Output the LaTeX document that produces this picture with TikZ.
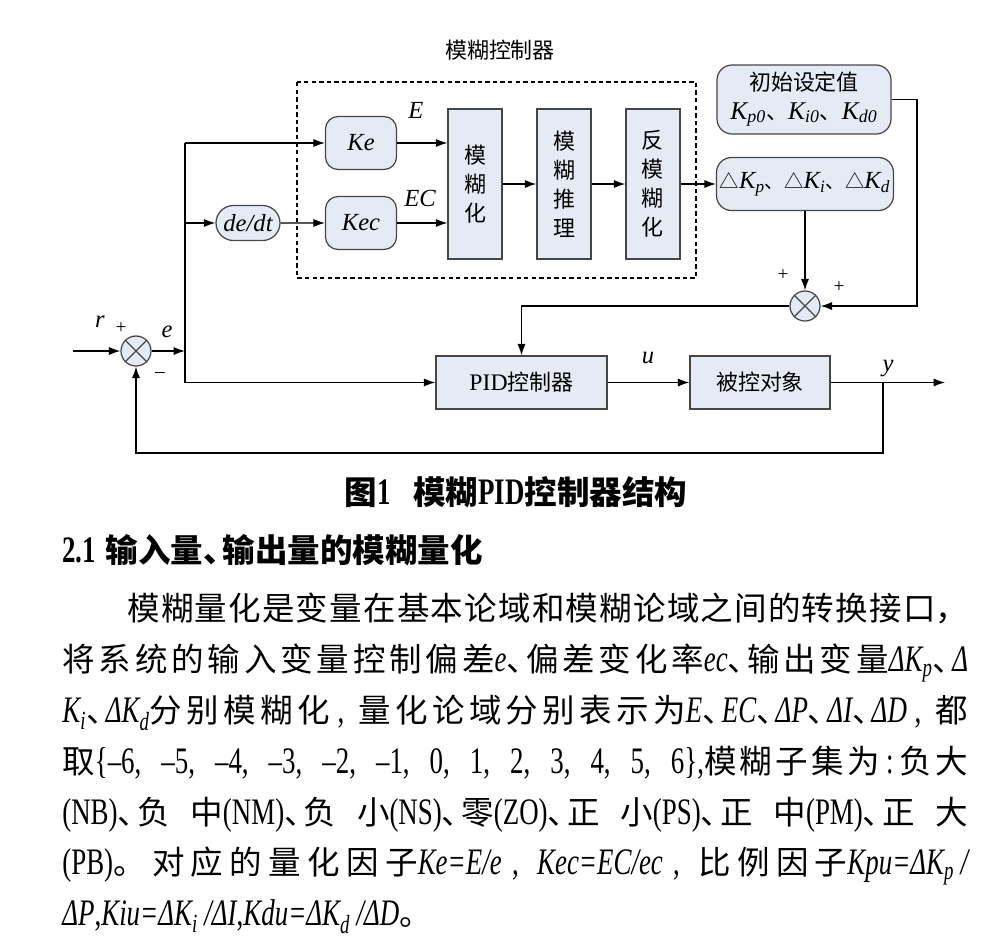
\documentclass[tikz,border=0pt]{standalone}
\usepackage{fontspec}
\setmainfont{Noto Sans CJK SC}
\newfontfamily\tnr{Liberation Serif}
\newfontfamily\tnn{Liberation Serif}[Scale=1.15, FakeStretch=0.72]
\usetikzlibrary{shapes.geometric, arrows.meta}
\definecolor{boxfill}{RGB}{228,235,245}
\definecolor{boxline}{RGB}{70,70,70}
\newcommand\mi[1]{{\tnn\itshape #1}}
\newcommand\mn[1]{{\tnn #1}}
\newcommand\dn{、\kern-0.4em}
\newcommand\cm{\mn{\hspace{0.05em plus 0.8pt},\hspace{0.15em plus 1.2pt}}}
\newcommand\dk[1]{△{\tnr\itshape\fontsize{14}{14}\selectfont K\textsubscript{#1}}}
\tikzstyle{blk} = [rectangle, minimum height=1.06cm, inner sep=0pt, draw=boxline, fill=boxfill, line width=0.7pt, text centered, font=\fontsize{12.5}{15}\selectfont]
\tikzstyle{rblk} = [blk, rounded corners=0.25cm]
\tikzstyle{kblk} = [rblk, minimum width=1.42cm, font=\tnr\itshape\fontsize{14}{16}\selectfont]
\tikzstyle{fzy} = [blk, minimum width=1.08cm, minimum height=3cm, align=center, font=\fontsize{12.5}{16.5}\selectfont]
\tikzstyle{sum} = [circle, minimum size=0.6cm, inner sep=0pt, draw=boxline, fill=boxfill, line width=0.7pt]
\tikzstyle{lbl} = [inner sep=0pt, font=\tnr\itshape\fontsize{14}{14}\selectfont]
\tikzstyle{sgn} = [inner sep=0pt, font=\tnr\fontsize{11}{11}\selectfont]
\tikzstyle{arrow} = [line width=0.75pt, -{Latex[length=6.5pt,width=4.6pt]}]
\tikzstyle{wire} = [line width=0.75pt]
\begin{document}
\begin{tikzpicture}[x=0.02cm, y=-0.02cm, node distance=1.6cm]
\useasboundingbox (0,0) rectangle (1000,944);
% fuzzy controller
\draw[dashed, line width=0.6pt, dash pattern=on 2.5pt off 1.8pt] (297,82) rectangle (696,278);
\node(0) at (500,50) [inner sep=0pt, font=\fontsize{12.5}{15}\selectfont]{模糊控制器};
\node(1) at (361,143) [kblk]{Ke};
\node(2) [kblk, below of = 1]{Kec};
\node(3) at (248,223) [rblk, minimum width=1.28cm, minimum height=0.7cm, rounded corners=0.35cm, font=\tnr\itshape\fontsize{14}{16}\selectfont]{de/dt};
\node(4) at (475,184) [fzy]{模\\糊\\化};
\node(5) [fzy, right of = 4, node distance=1.78cm]{模\\糊\\推\\理};
\node(6) [fzy, right of = 5, node distance=1.78cm]{反\\模\\糊\\化};
\node(7) at (804,99.5) [rblk, minimum width=3.48cm, minimum height=1.38cm, rounded corners=0.3cm, align=center]{初始设定值\\[1pt]{\tnr\itshape\fontsize{14.5}{15}\selectfont K\textsubscript{p0}}、{\tnr\itshape\fontsize{14.5}{15}\selectfont K\textsubscript{i0}}、{\tnr\itshape\fontsize{14.5}{15}\selectfont K\textsubscript{d0}}};
\node(8) at (805,184) [rblk, minimum width=3.54cm, rounded corners=0.3cm, font=\fontsize{11}{14}\selectfont]{\dk{p}、\dk{i}、\dk{d}};
\node(9) at (805,306) [sum]{};
% main loop
\node(10) at (136,351) [sum]{};
\node(11) at (521.5,382.5) [blk, minimum width=3.42cm]{{\tnr\fontsize{13.5}{15}\selectfont PID}控制器};
\node(12) at (760,382.5) [blk, minimum width=2.8cm]{被控对象};
\draw[wire, draw=boxline] (9.north west) -- (9.south east) (9.north east) -- (9.south west);
\draw[wire, draw=boxline] (10.north west) -- (10.south east) (10.north east) -- (10.south west);
\coordinate(in) at (73,351);
\coordinate(j1) at (185,351);
\coordinate(j2) at (185,143);
\coordinate(j3) at (185,223);
\coordinate(j4) at (185,382.5);
\coordinate(k) at (917,306);
\coordinate(j5) at (883,382.5);
\coordinate(j6) at (883,453);
\coordinate(out) at (945,382.5);
\draw[arrow](in) -- (10);
\draw[arrow](10) -- (j1);
\draw[wire](j2) -- (j4);
\draw[arrow](j2) -- (1);
\draw[arrow](j3) -- (3);
\draw[arrow](3) -- (2);
\draw[arrow](1.east) -- (1.east -| 4.west);
\draw[arrow](2.east) -- (2.east -| 4.west);
\draw[arrow](4) -- (5);
\draw[arrow](5) -- (6);
\draw[arrow](6) -- (8);
\draw[arrow](8) -- (9);
\draw[arrow](7.east) -| (k) -- (9);
\draw[arrow](9) -| (11.north);
\draw[arrow](j4) -- (11);
\draw[arrow](11) -- (12);
\draw[arrow](12) -- (out);
\draw[arrow](j5) -- (j6) -| (10);
% labels
\node(r) at (100,322) [lbl]{r};
\node(e) at (167,332) [lbl]{e};
\node(p1) at (121,328) [sgn]{+};
\node(m1) at (160,375) [sgn]{–};
\node(E) at (416,110) [lbl]{E};
\node(EC) at (420,198) [lbl]{EC};
\node(u) at (648,358) [lbl]{u};
\node(y) at (888,368) [lbl]{y};
\node(p2) at (783,275) [sgn]{+};
\node(p3) at (839,287) [sgn]{+};
% caption and text
\node(13) at (516,492) [inner sep=0pt, font=\bfseries\fontsize{18.5}{20}\selectfont]{图{\tnn 1}\hspace{0.7em}模糊{\tnn PID}控制器结构};
\node(14) at (62,550) [anchor=west, inner sep=0pt, font=\bfseries\fontsize{18.5}{20}\selectfont]{{\tnn 2.1}\hspace{0.3em}输入量\dn 输出量的模糊量化};
\node(15) at (62,593) [anchor=north west, inner sep=0pt, text width=18.12cm, align=justify, font=\fontsize{18.5}{28.9}\selectfont]{\XeTeXlinebreaklocale "zh"\XeTeXlinebreakskip=0pt plus 0.6pt minus 0.3pt\XeTeXlinebreakpenalty=10000\tolerance=10000%
\hspace*{2em}模糊量化是变量在基本论域和模糊论域之间的转换接口，\linebreak
将系统的输入变量控制偏差\mi{e}\dn 偏差变化率\mi{ec}\dn 输出变量\mi{ΔK\textsubscript{p}}\dn\mi{Δ}\linebreak
\mi{K\textsubscript{i}}\dn\mi{ΔK\textsubscript{d}}分别模糊化\cm 量化论域分别表示为\mi{E}\dn\mi{EC}\dn\mi{ΔP}\dn\mi{ΔI}\dn\mi{ΔD}\cm 都\linebreak
取\mn{\{–6, –5, –4, –3, –2, –1, 0, 1, 2, 3, 4, 5, 6\},}模糊子集为\mn{\,:\,}负大\linebreak
\mn{(NB)}\dn 负中\mn{(NM)}\dn 负小\mn{(NS)}\dn 零\mn{(ZO)}\dn 正小\mn{(PS)}\dn 正中\mn{(PM)}\dn 正大\linebreak
\mn{(PB)}。对应的量化因子\mi{Ke=E/\kern0pt e}\cm\mi{Kec=EC/\kern0pt ec}\cm 比例因子\mi{Kpu=ΔK\textsubscript{p}\,/}\linebreak
\mi{ΔP}\mn{,}\mi{Kiu=ΔK\textsubscript{i}\,/\kern0pt ΔI}\mn{,}\mi{Kdu=ΔK\textsubscript{d}\,/\kern0pt ΔD}。};
\end{tikzpicture}
\end{document}
